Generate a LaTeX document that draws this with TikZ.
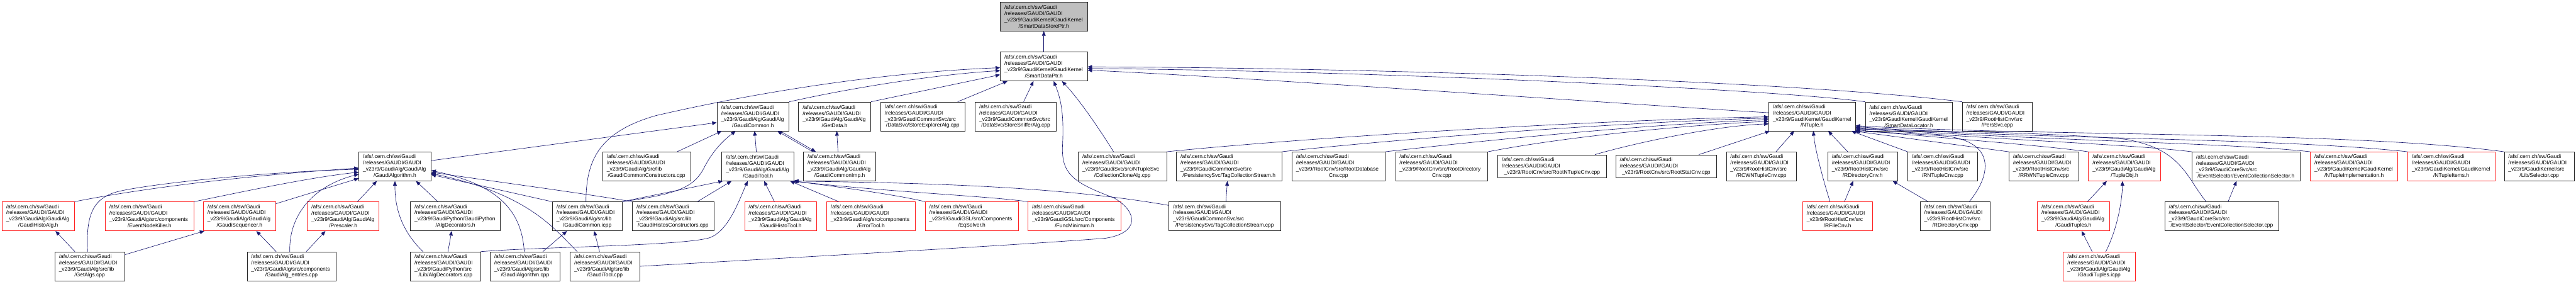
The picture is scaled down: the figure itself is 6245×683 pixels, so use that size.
\documentclass[tikz,border=0pt]{standalone}
\usepackage{fontspec}
\setmainfont{Liberation Sans}
\usetikzlibrary{arrows.meta}
\definecolor{edgeblue}{HTML}{191970}
\definecolor{boxred}{HTML}{FF2020}
\definecolor{boxgrey}{HTML}{BFBFBF}
\newcommand\lline[1]{\makebox[\linewidth][l]{#1}}
\newcommand\gbox[7][]{%
 \pgfmathsetmacro\gbw{#4-#3-20}%
 \pgfmathsetmacro\gbc{(#3+#4)/2}%
 \pgfmathsetmacro\gby{-(40+121*#5)}%
 \node[fbox,#1,text width=\gbw pt] (#2) at (\gbc,\gby) {\lline{/afs/.cern.ch/sw/Gaudi}\\\lline{/releases/GAUDI/GAUDI}\\\lline{#6}\\#7};}
\newcommand\gboxt[6][]{%
 \pgfmathsetmacro\gbw{#4-#3-20}%
 \pgfmathsetmacro\gbc{(#3+#4)/2}%
 \pgfmathsetmacro\gby{-(40+121*#5)}%
 \node[fbox,#1,minimum height=56pt,text width=\gbw pt] (#2) at (\gbc,\gby) {\lline{/afs/.cern.ch/sw/Gaudi}\\\lline{/releases/GAUDI/GAUDI}\\#6};}
\tikzset{
 fbox/.style={draw=black!85, line width=1pt, fill=white, inner xsep=10pt, inner ysep=0pt, minimum height=70pt, align=center, font=\fontsize{12.9}{15}\selectfont},
 rbox/.style={draw=boxred},
 gbx/.style={fill=boxgrey},
 dep/.style={draw=edgeblue, line width=1pt, -{Triangle[length=11pt,width=9pt]}},
}
\begin{document}
\begin{tikzpicture}[x=1pt,y=1pt]
\fill[white] (0,0) rectangle (6245,-683);
\useasboundingbox (0,0) rectangle (6245,-683);
% row 0-1
\gbox[gbx]{n0}{2425}{2636}{0}{\_v23r9/GaudiKernel/GaudiKernel}{/SmartDataStorePtr.h}
\gbox{n1}{2425}{2636}{1}{\_v23r9/GaudiKernel/GaudiKernel}{/SmartDataPtr.h}
% row 2
\gbox{gcom}{1738}{1913}{2}{\_v23r9/GaudiAlg/GaudiAlg}{/GaudiCommon.h}
\gbox{getd}{1936}{2111}{2}{\_v23r9/GaudiAlg/GaudiAlg}{/GetData.h}
\gbox{sexp}{2135}{2339}{2}{\_v23r9/GaudiCommonSvc/src}{/DataSvc/StoreExplorerAlg.cpp}
\gbox{ssnf}{2364}{2561}{2}{\_v23r9/GaudiCommonSvc/src}{/DataSvc/StoreSnifferAlg.cpp}
\gbox{ntup}{4288}{4498}{2}{\_v23r9/GaudiKernel/GaudiKernel}{/NTuple.h}
\gbox{sloc}{4522}{4733}{2}{\_v23r9/GaudiKernel/GaudiKernel}{/SmartDataLocator.h}
\gbox{pers}{4757}{4927}{2}{\_v23r9/RootHistCnv/src}{/PersSvc.cpp}
% row 3
\gbox{galg}{870}{1045}{3}{\_v23r9/GaudiAlg/GaudiAlg}{/GaudiAlgorithm.h}
\gbox{gcc}{1461}{1674}{3}{\_v23r9/GaudiAlg/src/lib}{/GaudiCommonConstructors.cpp}
\gbox{gtool}{1750}{1925}{3}{\_v23r9/GaudiAlg/GaudiAlg}{/GaudiTool.h}
\gbox{gimp}{1948}{2123}{3}{\_v23r9/GaudiAlg/GaudiAlg}{/GaudiCommonImp.h}
\gbox{cclone}{2614}{2828}{3}{\_v23r9/GaudiSvc/src/NTupleSvc}{/CollectionCloneAlg.cpp}
\gbox{tcsh}{2852}{3107}{3}{\_v23r9/GaudiCommonSvc/src}{/PersistencySvc/TagCollectionStream.h}
\gbox{rdb}{3132}{3358}{3}{\_v23r9/RootCnv/src/RootDatabase}{Cnv.cpp}
\gbox{rdir}{3383}{3607}{3}{\_v23r9/RootCnv/src/RootDirectory}{Cnv.cpp}
\gboxt{rnt}{3631}{3894}{3}{\_v23r9/RootCnv/src/RootNTupleCnv.cpp}
\gboxt{rstat}{3917}{4162}{3}{\_v23r9/RootCnv/src/RootStatCnv.cpp}
\gbox{rcwn}{4185}{4355}{3}{\_v23r9/RootHistCnv/src}{/RCWNTupleCnv.cpp}
\gbox{rdirh}{4431}{4600}{3}{\_v23r9/RootHistCnv/src}{/RDirectoryCnv.h}
\gbox{rntc}{4625}{4794}{3}{\_v23r9/RootHistCnv/src}{/RNTupleCnv.cpp}
\gbox{rrwn}{4870}{5039}{3}{\_v23r9/RootHistCnv/src}{/RRWNTupleCnv.cpp}
\gbox[rbox]{tobj}{5063}{5238}{3}{\_v23r9/GaudiAlg/GaudiAlg}{/TupleObj.h}
\gbox{ecsh}{5314}{5576}{3}{\_v23r9/GaudiCoreSvc/src}{/EventSelector/EventCollectionSelector.h}
\gbox[rbox]{nimp}{5601}{5813}{3}{\_v23r9/GaudiKernel/GaudiKernel}{/NTupleImplementation.h}
\gbox[rbox]{nitems}{5837}{6048}{3}{\_v23r9/GaudiKernel/GaudiKernel}{/NTupleItems.h}
\gbox{sel}{6071}{6241}{3}{\_v23r9/GaudiKernel/src}{/Lib/Selector.cpp}
% row 4
\gbox[rbox]{gha}{5}{180}{4}{\_v23r9/GaudiAlg/GaudiAlg}{/GaudiHistoAlg.h}
\gbox[rbox]{enk}{255}{470}{4}{\_v23r9/GaudiAlg/src/components}{/EventNodeKiller.h}
\gbox[rbox]{gseq}{493}{668}{4}{\_v23r9/GaudiAlg/GaudiAlg}{/GaudiSequencer.h}
\gbox[rbox]{pres}{745}{919}{4}{\_v23r9/GaudiAlg/GaudiAlg}{/Prescaler.h}
\gbox{adh}{995}{1213}{4}{\_v23r9/GaudiPython/GaudiPython}{/AlgDecorators.h}
\gbox{gci}{1339}{1508}{4}{\_v23r9/GaudiAlg/src/lib}{/GaudiCommon.icpp}
\gbox{ghc}{1533}{1731}{4}{\_v23r9/GaudiAlg/src/lib}{/GaudiHistosConstructors.cpp}
\gbox[rbox]{ght}{1805}{1980}{4}{\_v23r9/GaudiAlg/GaudiAlg}{/GaudiHistoTool.h}
\gbox[rbox]{etool}{2004}{2219}{4}{\_v23r9/GaudiAlg/src/components}{/ErrorTool.h}
\gbox[rbox]{eqs}{2243}{2469}{4}{\_v23r9/GaudiGSL/src/Components}{/EqSolver.h}
\gbox[rbox]{fmin}{2492}{2718}{4}{\_v23r9/GaudiGSL/src/Components}{/FuncMinimum.h}
\gbox{tcsc}{2834}{3104}{4}{\_v23r9/GaudiCommonSvc/src}{/PersistencySvc/TagCollectionStream.cpp}
\gbox[rbox]{rfile}{4370}{4539}{4}{\_v23r9/RootHistCnv/src}{/RFileCnv.h}
\gbox{rdirc}{4655}{4825}{4}{\_v23r9/RootHistCnv/src}{/RDirectoryCnv.cpp}
\gbox[rbox]{gtup}{4939}{5114}{4}{\_v23r9/GaudiAlg/GaudiAlg}{/GaudiTuples.h}
\gbox{ecsc}{5248}{5525}{4}{\_v23r9/GaudiCoreSvc/src}{/EventSelector/EventCollectionSelector.cpp}
% row 5
\gbox{getalgs}{133}{302}{5}{\_v23r9/GaudiAlg/src/lib}{/GetAlgs.cpp}
\gbox{gent}{599}{814}{5}{\_v23r9/GaudiAlg/src/components}{/GaudiAlg\_entries.cpp}
\gbox{adc}{995}{1165}{5}{\_v23r9/GaudiPython/src}{/Lib/AlgDecorators.cpp}
\gbox{galgc}{1188}{1358}{5}{\_v23r9/GaudiAlg/src/lib}{/GaudiAlgorithm.cpp}
\gbox{gtoolc}{1382}{1551}{5}{\_v23r9/GaudiAlg/src/lib}{/GaudiTool.cpp}
\gbox[rbox]{gtupi}{5002}{5176}{5}{\_v23r9/GaudiAlg/GaudiAlg}{/GaudiTuples.icpp}

% ---- edges ----
\draw[dep] (n1.north) -- (n0.south);
% into SmartDataPtr.h
\draw[dep] ([xshift=-3pt]gci.north) .. controls (1421,-390) and (1450,-320) .. (1590,-280) .. controls (1850,-220) and (2150,-175) .. ([yshift=-3pt]n1.west);
\draw[dep] (gcom.north east) .. controls (2050,-216) and (2250,-182) .. ([yshift=-10pt]n1.west);
\draw[dep] (getd.north east) -- ([yshift=-20pt]n1.west);
\draw[dep] ([xshift=-18pt]sexp.north east) -- ([xshift=18pt]n1.south west);
\draw[dep] ([xshift=19pt]ssnf.north) -- ([xshift=81pt]n1.south west);
\draw[dep] (gtoolc.east) .. controls (1900,-625) and (2450,-595) .. (2680,-577) .. controls (2760,-565) and (2762,-515) .. (2700,-479) .. controls (2600,-442) and (2572,-420) .. (2576,-350) .. controls (2580,-270) and (2570,-235) .. ([xshift=130pt]n1.south west);
\draw[dep] ([xshift=86pt]cclone.north west) .. controls (2670,-320) and (2620,-245) .. ([xshift=150pt]n1.south west);
\draw[dep] ([yshift=9pt]ntup.west) .. controls (4000,-256) and (3000,-186) .. ([yshift=-9pt]n1.east);
\draw[dep] (sloc.north west) .. controls (4300,-216) and (3300,-171) .. ([yshift=-5pt]n1.east);
\draw[dep] (pers.north west) .. controls (4300,-191) and (3200,-163) .. ([yshift=-1pt]n1.east);
% into GaudiCommon.h
\draw[dep] ([yshift=14pt]galg.east) -- ([yshift=-15pt]gcom.west);
\draw[dep] ([xshift=-33pt]gcc.north east) -- ([xshift=12pt]gcom.south west);
\draw[dep] (gci.north east) .. controls (1640,-470) and (1680,-455) .. (1705,-410) .. controls (1730,-360) and (1760,-335) .. ([xshift=46pt]gcom.south west);
\draw[dep] ([xshift=-4pt]gtool.north) -- ([xshift=4pt]gcom.south);
\draw[dep] ([xshift=23pt]gimp.north west) -- ([xshift=-29pt]gcom.south east);
\draw[dep] ([xshift=-22pt]gcom.south east) -- ([xshift=30pt]gimp.north west);
\draw[dep] ([xshift=-4pt]gimp.north) -- ([xshift=5pt]getd.south);
% into GaudiAlgorithm.h
\draw[dep] (gha.north east) .. controls (350,-455) and (600,-425) .. ([yshift=-4pt]galg.west);
\draw[dep] ([xshift=-5pt]getalgs.north) .. controls (208,-520) and (225,-478) .. (290,-463) .. controls (380,-443) and (650,-416) .. ([yshift=-7pt]galg.west);
\draw[dep] (enk.north east) .. controls (600,-462) and (750,-430) .. ([yshift=-14pt]galg.west);
\draw[dep] ([yshift=-5pt]gseq.north east) -- ([yshift=-29pt]galg.west);
\draw[dep] ([xshift=-4pt]gent.north) .. controls (700,-520) and (760,-450) .. ([yshift=-19pt]galg.west);
\draw[dep] ([xshift=122pt]pres.north west) -- ([xshift=44pt]galg.south west);
\draw[dep] ([xshift=31pt]adc.north west) .. controls (985,-570) and (957,-520) .. (galg.south);
\draw[dep] ([xshift=67pt]adh.north west) -- ([xshift=-37pt]galg.south east);
\draw[dep] ([xshift=-2pt]galgc.north) .. controls (1265,-520) and (1220,-450) .. ([yshift=-10pt]galg.east);
\draw[dep] ([xshift=18pt]gtoolc.north west) .. controls (1340,-550) and (1280,-470) .. ([yshift=-17pt]galg.east);
\draw[dep] (gci.north west) -- ([yshift=-20pt]galg.east);
\draw[dep] (ghc.north west) .. controls (1400,-466) and (1200,-440) .. ([yshift=-14pt]galg.east);
% into GaudiTool.h
\draw[dep] (gci.north east) -- ([xshift=3pt]gtool.south west);
\draw[dep] ([xshift=-41pt]ghc.north east) -- ([xshift=24pt]gtool.south west);
\draw[dep] (adc.north east) .. controls (1300,-598) and (1650,-596) .. (1720,-576) .. controls (1765,-560) and (1790,-490) .. ([xshift=63pt]gtool.south west);
\draw[dep] ([xshift=-15pt]ght.north) -- ([xshift=15pt]gtool.south);
\draw[dep] ([xshift=30pt]etool.north west) -- ([xshift=-10pt]gtool.south east);
\draw[dep] (eqs.north west) .. controls (2180,-473) and (2050,-455) .. ([xshift=-2pt]gtool.south east);
\draw[dep] (fmin.north west) .. controls (2400,-475) and (2150,-465) .. ([xshift=-4pt]gtool.south east);
\draw[dep] ([yshift=-9pt]tcsc.north west) .. controls (2550,-448) and (2200,-443) .. (gtool.south east);
% into NTuple.h
\draw[dep] (cclone.north east) .. controls (3200,-330) and (3900,-290) .. ([yshift=-1pt]ntup.west);
\draw[dep] (tcsh.north east) .. controls (3400,-335) and (3950,-295) .. ([yshift=-4pt]ntup.west);
\draw[dep] (rdb.north east) .. controls (3600,-340) and (4000,-300) .. ([yshift=-8pt]ntup.west);
\draw[dep] (rdir.north east) .. controls (3800,-330) and (4100,-302) .. ([yshift=-12pt]ntup.west);
\draw[dep] ([xshift=-28pt]rnt.north east) .. controls (3950,-350) and (4150,-305) .. ([yshift=-18pt]ntup.west);
\draw[dep] ([xshift=-44pt]rstat.north east) -- ([xshift=3pt]ntup.south west);
\draw[dep] ([xshift=-50pt]rcwn.north east) -- ([xshift=62pt]ntup.south west);
\draw[dep] ([xshift=-18pt]rfile.north) .. controls (4418,-430) and (4400,-360) .. ([xshift=3pt]ntup.south);
\draw[dep] ([xshift=-36pt]rdirh.north) -- ([xshift=39pt]ntup.south);
\draw[dep] (rntc.north west) -- ([xshift=-10pt]ntup.south east);
\draw[dep] (rrwn.north west) -- ([xshift=-4pt]ntup.south east);
\draw[dep] ([xshift=34pt]rdirc.north) .. controls (4830,-420) and (4835,-345) .. (4720,-330) .. controls (4620,-322) and (4540,-320) .. (ntup.south east);
\draw[dep] (tobj.north west) .. controls (4950,-352) and (4750,-338) .. ([yshift=3pt]ntup.south east);
\draw[dep] ([xshift=-38pt]ecsc.north) .. controls (5300,-430) and (5290,-360) .. (5150,-337) .. controls (4950,-320) and (4700,-318) .. ([yshift=5pt]ntup.south east);
\draw[dep] (ecsh.north west) .. controls (5150,-348) and (4850,-340) .. ([yshift=7pt]ntup.south east);
\draw[dep] (nimp.north west) .. controls (5400,-345) and (4900,-340) .. ([yshift=9pt]ntup.south east);
\draw[dep] (nitems.north west) .. controls (5500,-332) and (4900,-338) .. ([yshift=11pt]ntup.south east);
\draw[dep] (sel.north west) .. controls (5700,-318) and (4950,-330) .. ([yshift=13pt]ntup.south east);
% others
\draw[dep] ([xshift=15pt]ecsc.north) -- ([xshift=-23pt]ecsh.south);
\draw[dep] ([xshift=34pt]gtup.north) -- ([xshift=-43pt]tobj.south);
\draw[dep] ([xshift=16pt]gtupi.north) .. controls (5135,-550) and (5145,-480) .. ([xshift=-5pt]tobj.south);
\draw[dep] ([xshift=-17pt]gtupi.north) -- ([xshift=20pt]gtup.south);
\draw[dep] ([xshift=17pt]rfile.north) -- ([xshift=-23pt]rdirh.south);
\draw[dep] ([xshift=20pt]rdirc.north west) -- ([xshift=-12pt]rdirh.south east);
\draw[dep] ([xshift=3pt]tcsc.north) -- ([xshift=-4pt]tcsh.south);
\draw[dep] ([xshift=-36pt]getalgs.north) -- ([xshift=42pt]gha.south);
\draw[dep] ([yshift=28pt]getalgs.east) -- ([xshift=3pt]gseq.south west);
\draw[dep] ([xshift=-37pt]gent.north) -- ([xshift=41pt]gseq.south);
\draw[dep] ([xshift=36pt]gent.north) -- ([xshift=-43pt]pres.south);
\draw[dep] ([xshift=6pt]adc.north) -- ([xshift=-9pt]adh.south);
\draw[dep] ([xshift=43pt]galgc.north) -- ([xshift=-49pt]gci.south);
\draw[dep] ([xshift=-13pt]gtoolc.north) -- ([xshift=17pt]gci.south);
\end{tikzpicture}
\end{document}
